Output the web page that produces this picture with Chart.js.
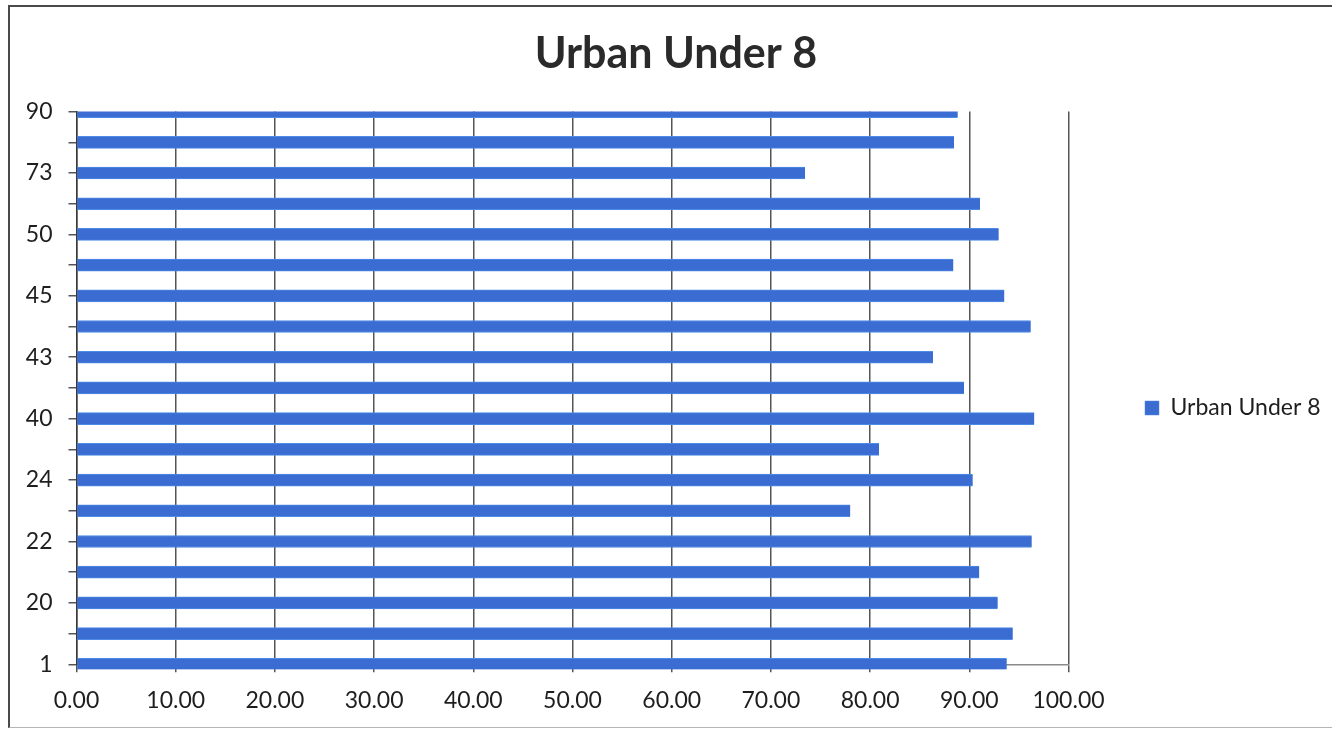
<!DOCTYPE html>
<html>
<head>
<meta charset="utf-8">
<title>Urban Under 8</title>
<script src="https://cdn.jsdelivr.net/npm/chart.js@4"></script>
<style>
  html, body { margin: 0; padding: 0; background: #ffffff; overflow: hidden; }
  #wrap { position: relative; width: 1332px; height: 729px; }
  #chart { position: absolute; left: 0; top: 0; }
  #frame {
    position: absolute; left: 8px; top: 5px; width: 1400px; height: 720px;
    border-left: 2px solid #4a4a4a; border-top: 2px solid #4a4a4a; border-bottom: 1px solid #b5b5b5;
    pointer-events: none;
  }
</style>
</head>
<body>
<div id="wrap">
  <canvas id="chart" width="1332" height="729"></canvas>
  <div id="frame"></div>
</div>
<script>
// Rows listed bottom to top; only every other row carries a visible label.
const rowLabels = ['1', '', '20', '', '22', '', '24', '', '40', '', '43', '', '45', '', '50', '', '73', '', '90'];
const urbanUnder8 = [93.77, 94.38, 92.86, 91.00, 96.29, 78.00, 90.34, 80.90, 96.55, 89.47,
                     86.34, 96.19, 93.53, 88.39, 92.96, 91.08, 73.44, 88.46, 88.83];
const seriesName = 'Urban Under 8';
const chartTitle = 'Urban Under 8';
const xMin = 0, xMax = 100, xStep = 10;

const FONT = 'Lato, "Noto Sans", "DejaVu Sans", sans-serif';
const TEXT = '#1e1e1e';
const BAR = '#3a6cd2';

// Places the legend entry to the right of the plot, centred on the plot rows.
const legendPlacement = {
  id: 'legendPlacement',
  afterLayout(chart) {
    const lg = chart.legend;
    if (!lg) return;
    const pad = lg.options.labels.padding;
    const dx = 1145 - (lg.left + pad);
    const dy = 408 - (lg.top + lg.bottom) / 2;
    lg.left += dx;
    lg.right = chart.width;
    lg.width = lg.right - lg.left;
    lg.top += dy; lg.bottom += dy;
  }
};

function draw() {
  new Chart(document.getElementById('chart'), {
    type: 'bar',
    data: {
      labels: rowLabels,
      datasets: [{
        label: seriesName,
        data: urbanUnder8,
        backgroundColor: BAR,
        borderColor: '#4d8be6',
        borderWidth: { top: 1, bottom: 1, left: 0, right: 0 },
        borderSkipped: false,
        barThickness: 12,
        clip: { left: false, right: false, top: 0, bottom: 5 }
      }]
    },
    options: {
      indexAxis: 'y',
      responsive: false,
      animation: false,
      events: [],
      layout: { padding: { left: 20, right: 0, top: 0, bottom: 0 } },
      scales: {
        x: {
          min: xMin, max: xMax,
          grid: { color: '#555555', lineWidth: 1.5, drawTicks: true, tickLength: 8, tickColor: '#555555' },
          border: { display: true, color: '#8a8a8a', width: 1.5 },
          ticks: {
            stepSize: xStep,
            padding: 14,
            color: TEXT,
            font: { family: FONT, size: 23 },
            callback: v => Number(v).toFixed(2)
          },
          afterFit: s => { s.height = 64.7; }
        },
        y: {
          reverse: true,
          offset: false,
          grid: { display: true, offset: false, drawOnChartArea: false, drawTicks: true, tickLength: 8, tickColor: '#555555', lineWidth: 1.5 },
          border: { display: true, color: '#3a3a3a', width: 1.5 },
          ticks: {
            autoSkip: false,
            padding: 16,
            color: TEXT,
            font: { family: FONT, size: 23 }
          },
          afterFit: s => { s.width = 56.5; }
        }
      },
      plugins: {
        title: {
          display: true,
          text: chartTitle,
          color: '#2a2a2a',
          font: { family: FONT, size: 43, weight: 'bold' },
          padding: { top: 28, bottom: 32 }
        },
        legend: {
          position: 'right',
          maxWidth: 263.5,
          labels: {
            boxWidth: 14,
            boxHeight: 14,
            padding: 100,
            color: TEXT,
            font: { family: FONT, size: 23 }
          }
        },
        tooltip: { enabled: false }
      }
    },
    plugins: [legendPlacement]
  });
}

Promise.all([
  document.fonts.load('23px Lato'),
  document.fonts.load('bold 43px Lato')
]).then(draw, draw);
</script>
</body>
</html>
